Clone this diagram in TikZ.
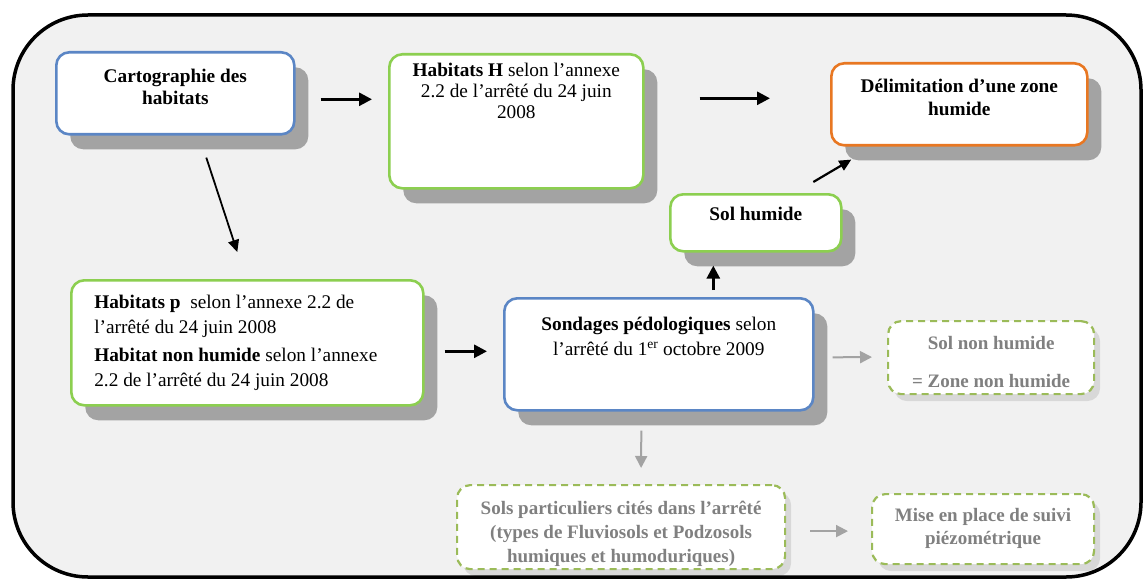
\documentclass[tikz,border=0pt]{standalone}
\usepackage{fontspec}
\setmainfont{Liberation Serif}
\usetikzlibrary{shadows,arrows.meta}

\definecolor{boxblue}{HTML}{5B86C5}
\definecolor{boxgreen}{HTML}{8CCF50}
\definecolor{boxorange}{HTML}{E87722}
\definecolor{dashgreen}{HTML}{9BBB59}
\definecolor{shadowgray}{HTML}{A3A3A3}
\definecolor{softgray}{HTML}{808080}
\definecolor{bggray}{HTML}{F1F1F1}

% box content: width, height, top gap, text
\newcommand{\boxtxt}[4]{\parbox[c][#2pt][t]{#1pt}{\vspace*{#3pt}\centering #4\par}}

\begin{document}
\begin{tikzpicture}[x=1pt, y=-1pt, >={Triangle[length=13pt,width=13pt]},
    card/.style={draw=#1, line width=2.6pt, fill=white, rounded corners=13pt, inner sep=0pt, anchor=north west,
        font=\fontsize{19.3}{22}\selectfont,
        drop shadow={shadow xshift=14pt, shadow yshift=-15pt, fill=shadowgray, opacity=1}},
    ghost/.style={draw=dashgreen, line width=2.2pt, dash pattern=on 7pt off 5pt, fill=white, rounded corners=13pt,
        inner sep=0pt, anchor=north west, text=softgray, font=\fontsize{19}{24}\selectfont\bfseries,
        drop shadow={shadow xshift=6pt, shadow yshift=-7pt, fill=black, opacity=0.10}},
    arr/.style={->, line width=2.8pt},
    thin arr/.style={->, line width=1.8pt, >={Triangle[length=12pt,width=11pt]}},
    grey arr/.style={->, line width=2pt, draw=shadowgray, >={Triangle[length=12pt,width=12pt]}}]
    \useasboundingbox (0,0) rectangle (1147,580);
    % Cadre
    \fill[white] (0,0) rectangle (1147,580);
    \draw[line width=3.5pt, fill=bggray, rounded corners=75pt] (13,15) rectangle (1141,577);
    % Nodes
    \node[card=boxblue] (carto) at (55,51) {\boxtxt{238}{82}{17}{\textbf{Cartographie des}\\\textbf{habitats}}};
    \node[card=boxgreen, font=\fontsize{19.3}{21}\selectfont] (habH) at (388,53)
        {\boxtxt{254}{134}{9}{\textbf{Habitats H} selon l’annexe\\2.2 de l’arrêté du 24 juin\\2008}};
    \node[card=boxorange, font=\fontsize{19.3}{23}\selectfont] (delim) at (830,62)
        {\boxtxt{256}{82}{16}{\textbf{Délimitation d’une zone}\\\textbf{humide}}};
    \node[card=boxgreen] (solhum) at (669,193) {\boxtxt{171}{57}{13}{\textbf{Sol humide}}};
    \node[card=boxgreen, font=\fontsize{19.3}{25}\selectfont] (habp) at (70,279)
        {\parbox[c][125pt][t]{352pt}{\vspace*{15pt}\raggedright\leftskip=23pt
        \textbf{Habitats p}~ selon l’annexe 2.2 de\\l’arrêté du 24 juin 2008\\[3pt]
        \textbf{Habitat non humide} selon l’annexe\\2.2 de l’arrêté du 24 juin 2008\par}};
    \node[card=boxblue, font=\fontsize{19.3}{25}\selectfont] (sond) at (503,297)
        {\boxtxt{309}{112}{19}{\textbf{Sondages pédologiques} selon\\l’arrêté du 1\textsuperscript{er} octobre 2009}};
    \node[ghost, font=\fontsize{19}{22}\selectfont\bfseries] (solnon) at (887,320)
        {\boxtxt{206}{73}{15}{Sol non humide\\[16pt]= Zone non humide}};
    \node[ghost] (solpart) at (456,484)
        {\boxtxt{328}{84}{16}{Sols particuliers cités dans l’arrêté\\(types de Fluviosols et Podzosols\\humiques et humoduriques)}};
    \node[ghost, font=\fontsize{19}{23}\selectfont\bfseries] (mise) at (871,493)
        {\boxtxt{222}{70}{14}{Mise en place de suivi\\piézométrique}};
    % Fleches
    \draw[arr] ([xshift=25pt,yshift=-6pt]carto.east) -- ([xshift=-16pt,yshift=22pt]habH.west);
    \draw[arr] ([xshift=55pt,yshift=23pt]habH.east) -- ([xshift=-60pt,yshift=6pt]delim.west);
    \draw[thin arr] ([xshift=31pt,yshift=-22pt]carto.south) -- ([xshift=-10pt,yshift=27pt]habp.north);
    \draw[arr] ([xshift=20pt,yshift=-8.5pt]habp.east) -- ([xshift=-16pt,yshift=3pt]sond.west);
    \draw[arr] ([xshift=54.5pt,yshift=7pt]sond.north) -- ([xshift=-42.5pt,yshift=-13pt]solhum.south);
    \draw[thin arr, line width=2.2pt] ([xshift=57.5pt,yshift=11pt]solhum.north) -- ([xshift=-108pt,yshift=-13pt]delim.south);
    \draw[grey arr] ([xshift=18pt,yshift=-3pt]sond.east) -- ([xshift=-15pt,yshift=0.5pt]solnon.west);
    \draw[grey arr] ([xshift=-17.5pt,yshift=-19pt]sond.south) -- ([xshift=20pt,yshift=16pt]solpart.north);
    \draw[grey arr] ([xshift=24pt,yshift=-4pt]solpart.east) -- ([xshift=-23pt,yshift=-2pt]mise.west);
\end{tikzpicture}
\end{document}
